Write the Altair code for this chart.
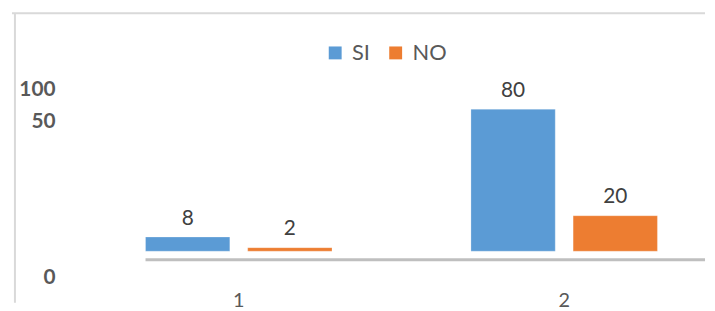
import altair as alt
import pandas as pd

# ---- data ----
categories = ["1", "2"]
series = ["SI", "NO"]
si_values = [8, 80]
no_values = [2, 20]
y_tick_values = [100, 50, 0]
y_tick_labels = ["100", "50", "0"]
colors = ["#5b9bd5", "#ed7d31"]

rows = []
for i, c in enumerate(categories):
    rows.append({"cat": c, "serie": series[0], "value": si_values[i]})
    rows.append({"cat": c, "serie": series[1], "value": no_values[i]})
df = pd.DataFrame(rows)
ticks_df = pd.DataFrame({"v": y_tick_values, "label": y_tick_labels})
one = pd.DataFrame({"k": [0]})

W, H = 696, 292
FONT = "Lato"

xscale = alt.Scale(domain=categories, range=[131.7, 648], paddingInner=0.427, paddingOuter=0)
offscale = alt.Scale(domain=series, paddingInner=0.175, paddingOuter=0)
yscale = alt.Scale(domain=[0, 100], range=[240, 61])
xaxis = alt.Axis(orient="bottom", domain=False, ticks=False, tickSize=0,
                 labelFontSize=20, labelFont=FONT, labelColor="#595959",
                 labelAngle=0, labelPadding=0, offset=-12, title=None, grid=False)

base = alt.Chart(df)

bars = base.mark_bar(stroke="#ffffff", strokeOpacity=0.25, strokeWidth=1).encode(
    x=alt.X("cat:N", scale=xscale, sort=categories, axis=xaxis),
    xOffset=alt.XOffset("serie:N", scale=offscale, sort=series),
    y=alt.Y("value:Q", scale=yscale, axis=None),
    color=alt.Color("serie:N", sort=series,
                    scale=alt.Scale(domain=series, range=colors),
                    legend=alt.Legend(orient="none", legendX=312, legendY=29, direction="horizontal",
                                      title=None, symbolType="square", symbolSize=169,
                                      symbolStrokeWidth=0, labelFontSize=22,
                                      labelFont=FONT, labelColor="#595959",
                                      labelOffset=6, columnPadding=14, padding=0)),
)

labels = base.mark_text(fontSize=21, font=FONT, color="#404040", baseline="alphabetic",
                        dy=-12.5).encode(
    x=alt.X("cat:N", scale=xscale, sort=categories, axis=xaxis),
    xOffset=alt.XOffset("serie:N", scale=offscale, sort=series),
    y=alt.Y("value:Q", scale=yscale, axis=None),
    text=alt.Text("value:Q"),
)

yticks = alt.Chart(ticks_df).mark_text(align="right", baseline="middle", fontSize=21,
                                      fontWeight="bold", font=FONT, color="#595959").encode(
    x=alt.value(41),
    y=alt.Y("v:Q", scale=alt.Scale(type="pow", exponent=0.27, domain=[0, 100], range=[267, 77.3]),
            axis=None),
    text="label:N",
)

left_border = alt.Chart(one).mark_rule(color="#d9d9d9", strokeWidth=2).encode(
    x=alt.value(0), y=alt.value(0), y2=alt.value(H))
top_border = alt.Chart(one).mark_rule(color="#d9d9d9", strokeWidth=2).encode(
    x=alt.value(-3), x2=alt.value(W), y=alt.value(0))
axis_line = alt.Chart(one).mark_rule(color="#bfbfbf", strokeWidth=3).encode(
    x=alt.value(131.7), x2=alt.value(W), y=alt.value(248.6))

chart = alt.layer(left_border, top_border, axis_line, bars, labels, yticks).resolve_scale(
    y="independent"
).properties(
    width=W, height=H,
    padding={"left": 3, "top": 3, "right": 0, "bottom": 0},
    background="white",
).configure_view(stroke=None)

chart.save("out.html", embed_options={"renderer": "svg", "actions": False})
